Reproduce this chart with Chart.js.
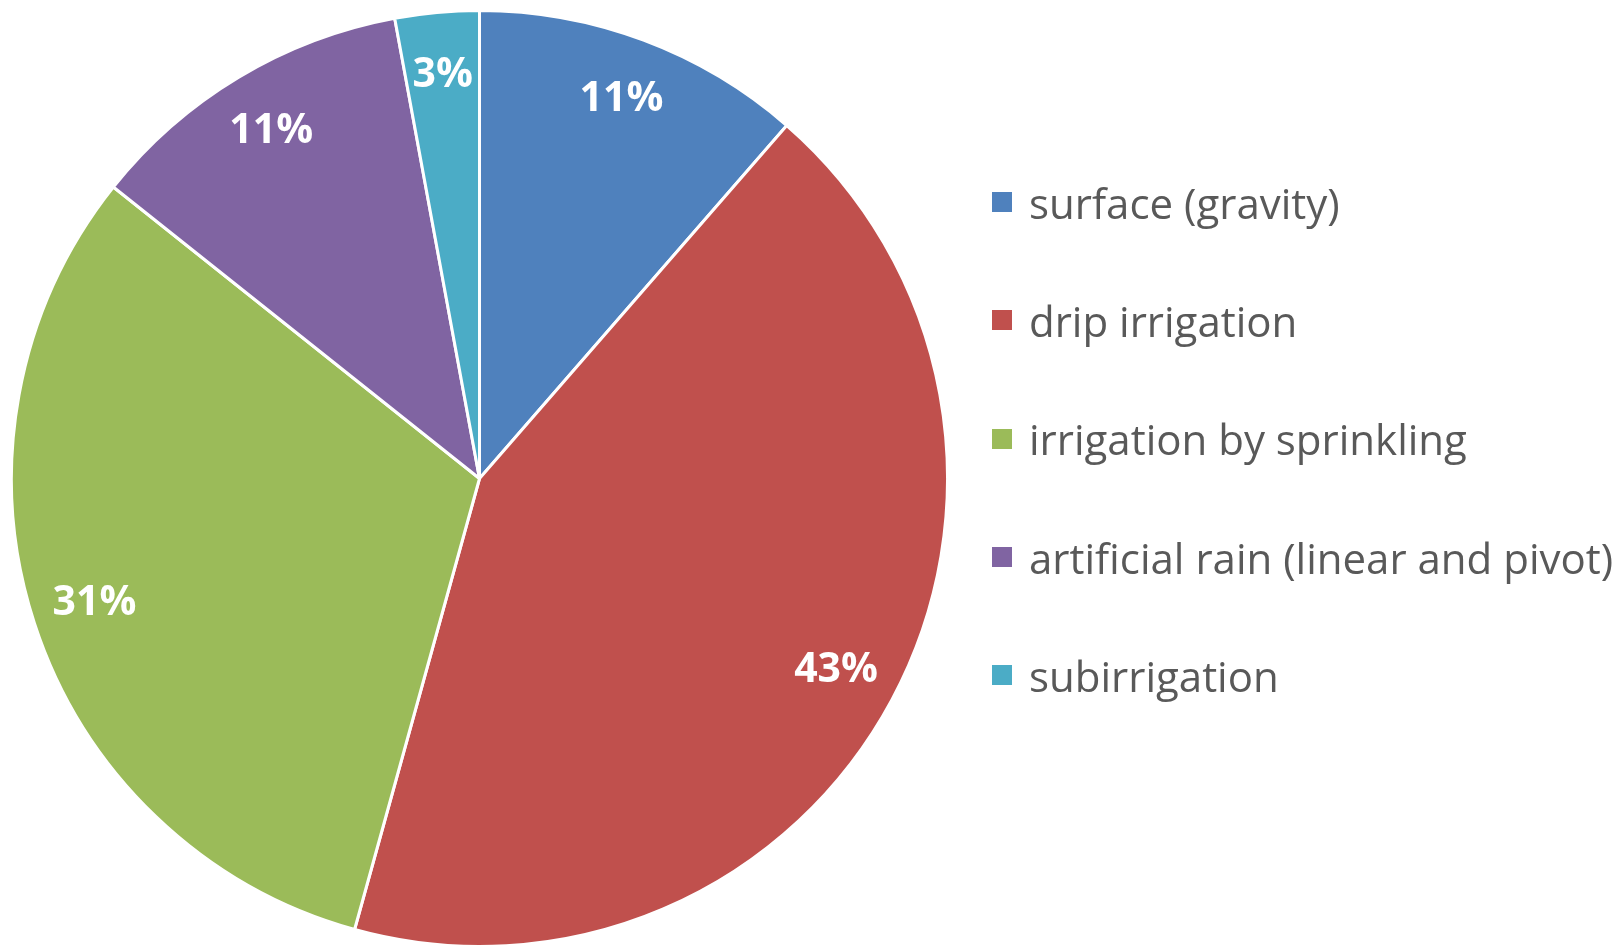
<!DOCTYPE html>
<html>
<head>
<meta charset="utf-8">
<script src="https://cdn.jsdelivr.net/npm/chart.js@4/dist/chart.umd.min.js"></script>
<style>
  html, body { margin: 0; padding: 0; background: #fff; overflow: hidden; }
  #wrap { position: relative; width: 1620px; height: 948px; }
  #legend {
    position: absolute; left: 992px; top: 143px; margin: 0; padding: 0; list-style: none;
    font-family: "Open Sans", sans-serif; font-size: 42px; color: #595959;
  }
  #legend li { height: 118.3px; display: flex; align-items: center; white-space: nowrap; }
  #legend span.box { width: 20px; height: 20px; margin-right: 17px; flex: none; }
</style>
</head>
<body>
<div id="wrap">
  <canvas id="pieChart"></canvas>
  <ul id="legend"></ul>
</div>
<script>
const labels = ["surface (gravity)", "drip irrigation", "irrigation by sprinkling", "artificial rain (linear and pivot)", "subirrigation"];
const shares = [11.4, 42.9, 31.4, 11.4, 2.9];
const colors = ["#4F81BD", "#C0504D", "#9BBB59", "#8064A2", "#4BACC6"];

// percent labels inside each slice
const sliceLabels = {
  id: "sliceLabels",
  afterDatasetsDraw(chart) {
    const ctx = chart.ctx;
    const meta = chart.getDatasetMeta(0);
    const values = chart.data.datasets[0].data;
    const total = values.reduce((a, b) => a + b, 0);
    ctx.save();
    ctx.font = "bold 41px 'Open Sans', sans-serif";
    ctx.fillStyle = "#ffffff";
    ctx.textAlign = "center";
    ctx.textBaseline = "middle";
    meta.data.forEach((arc, i) => {
      const p = arc.getProps(["x", "y", "startAngle", "endAngle", "outerRadius"], true);
      const mid = (p.startAngle + p.endAngle) / 2;
      const r = p.outerRadius * 0.865;
      const text = Math.round(values[i] / total * 100) + "%";
      ctx.fillText(text, p.x + Math.cos(mid) * r, p.y + Math.sin(mid) * r);
    });
    ctx.restore();
  },
};

const ctx = document.getElementById("pieChart").getContext("2d");
new Chart(ctx, {
  type: "pie",
  data: {
    labels: labels,
    datasets: [
      {
        data: shares,
        backgroundColor: colors,
        borderColor: "#ffffff",
        borderWidth: 3,
      },
    ],
  },
  options: {
    responsive: true,
    maintainAspectRatio: false,
    animation: false,
    layout: {
      padding: { left: 10, right: 671, top: 9, bottom: 0 },
    },
    plugins: {
      legend: { display: false },
      tooltip: { enabled: false },
    },
  },
  plugins: [sliceLabels],
});

// legend
const legendEl = document.getElementById("legend");
labels.forEach((label, i) => {
  const li = document.createElement("li");
  const box = document.createElement("span");
  box.className = "box";
  box.style.background = colors[i];
  li.appendChild(box);
  li.appendChild(document.createTextNode(label));
  legendEl.appendChild(li);
});
</script>
</body>
</html>
